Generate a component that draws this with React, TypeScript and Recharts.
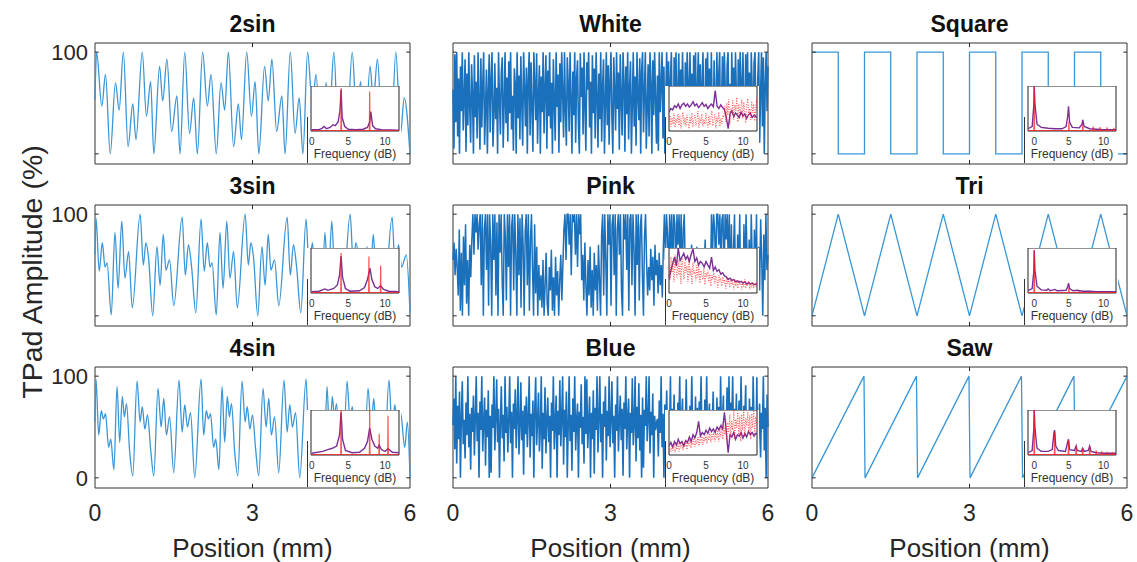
import React from "react";
import { LineChart, Line, XAxis, YAxis, ReferenceArea, ReferenceLine } from "recharts";

type Pt = [number, number];

const POSITION_TICKS = [0, 3, 6];
const AMPLITUDE_TICKS = [0, 100];
const FREQ_TICKS = [0, 5, 10];

// waveform extrema, [position mm, amplitude %]
const WAVE_2SIN: Pt[] = [
  [0, 53], [0.03, 100], [0.13, 47], [0.2, 78], [0.29, 0], [0.39, 70], [0.46, 43], [0.54, 100], [0.63, 7], [0.72, 49],
  [0.78, 14], [0.9, 100], [0.98, 37], [1.06, 71], [1.12, 0], [1.23, 86], [1.29, 52], [1.37, 93], [1.46, 22], [1.56, 57],
  [1.62, 0], [1.71, 100], [1.8, 20], [1.88, 55], [1.95, 0],
  [2.05, 100], [2.14, 47], [2.21, 78], [2.31, 0], [2.4, 70], [2.47, 43], [2.54, 100], [2.64, 7], [2.73, 49], [2.79, 14],
  [2.89, 100], [2.98, 37], [3.05, 71], [3.12, 0], [3.23, 86], [3.3, 52], [3.37, 93], [3.46, 22], [3.56, 57], [3.62, 0],
  [3.72, 100], [3.81, 20], [3.89, 55], [3.96, 0],
  [4.05, 100], [4.14, 47], [4.21, 78], [4.31, 0], [4.4, 70], [4.47, 43], [4.55, 100], [4.64, 7], [4.73, 49], [4.79, 14],
  [4.9, 100], [4.98, 37], [5.06, 71], [5.13, 0], [5.24, 86], [5.3, 52], [5.38, 93], [5.47, 22], [5.57, 57], [5.63, 0],
  [5.73, 100], [5.82, 20], [5.89, 55], [6, 0],
];

const WAVE_3SIN: Pt[] = [
  [0, 60], [0.02, 96], [0.08, 44], [0.14, 72], [0.19, 48], [0.23, 52], [0.31, 1], [0.38, 82], [0.44, 27], [0.51, 93],
  [0.57, 37], [0.64, 63], [0.71, 8], [0.86, 100], [0.92, 50], [0.97, 72], [1.02, 57], [1.1, 0], [1.18, 68], [1.24, 30],
  [1.3, 80], [1.35, 45], [1.42, 55], [1.5, 10], [1.66, 97], [1.72, 40], [1.78, 70], [1.84, 48], [1.92, 3],
  [2.02, 95], [2.08, 44], [2.14, 72], [2.19, 48], [2.23, 52], [2.31, 1], [2.38, 82], [2.44, 27], [2.51, 93], [2.57, 37],
  [2.64, 63], [2.71, 8], [2.86, 100], [2.92, 50], [2.97, 72], [3.02, 57], [3.1, 0], [3.18, 68], [3.24, 30], [3.3, 80],
  [3.35, 45], [3.42, 55], [3.5, 10], [3.66, 97], [3.72, 40], [3.78, 70], [3.84, 48], [3.92, 3],
  [4.02, 95], [4.08, 44], [4.14, 72], [4.19, 48], [4.23, 52], [4.31, 1], [4.38, 82], [4.44, 27], [4.51, 93], [4.57, 37],
  [4.64, 63], [4.71, 8], [4.86, 100], [4.92, 50], [4.97, 72], [5.02, 57], [5.1, 0], [5.18, 68], [5.24, 30], [5.3, 80],
  [5.35, 45], [5.42, 55], [5.5, 10], [5.66, 97], [5.72, 40], [5.78, 70], [5.84, 48], [5.93, 60], [6, 3],
];

const WAVE_4SIN: Pt[] = [
  [0, 55], [0.02, 97], [0.07, 42], [0.12, 66], [0.16, 58], [0.2, 63], [0.26, 30], [0.3, 38], [0.36, 8], [0.42, 90],
  [0.47, 35], [0.52, 80], [0.56, 60], [0.6, 73], [0.66, 26], [0.72, 2], [0.8, 95], [0.86, 55], [0.9, 70], [0.95, 48],
  [1.0, 62], [1.06, 28], [1.12, 2], [1.2, 88], [1.26, 50], [1.31, 78], [1.36, 42], [1.42, 60], [1.5, 5], [1.6, 96],
  [1.66, 45], [1.71, 72], [1.76, 50], [1.82, 64], [1.9, 0],
  [2.02, 97], [2.07, 42], [2.12, 66], [2.16, 58], [2.2, 63], [2.26, 30], [2.3, 38], [2.36, 8], [2.42, 90], [2.47, 35],
  [2.52, 80], [2.56, 60], [2.6, 73], [2.66, 26], [2.72, 2], [2.8, 95], [2.86, 55], [2.9, 70], [2.95, 48], [3.0, 62],
  [3.06, 28], [3.12, 2], [3.2, 88], [3.26, 50], [3.31, 78], [3.36, 42], [3.42, 60], [3.5, 5], [3.6, 96], [3.66, 45],
  [3.71, 72], [3.76, 50], [3.82, 64], [3.9, 0],
  [4.02, 97], [4.07, 42], [4.12, 66], [4.16, 58], [4.2, 63], [4.26, 30], [4.3, 38], [4.36, 8], [4.42, 90], [4.47, 35],
  [4.52, 80], [4.56, 60], [4.6, 73], [4.66, 26], [4.72, 2], [4.8, 95], [4.86, 55], [4.9, 70], [4.95, 48], [5.0, 62],
  [5.06, 28], [5.12, 2], [5.2, 88], [5.26, 50], [5.31, 78], [5.36, 42], [5.42, 60], [5.5, 5], [5.6, 96], [5.66, 45],
  [5.71, 72], [5.76, 50], [5.82, 64], [5.9, 30], [5.95, 55], [6, 0],
];

const WAVE_SQUARE: Pt[] = [
  [0, 100], [0.5, 100], [0.5, 0], [1, 0], [1, 100], [1.5, 100], [1.5, 0], [2, 0], [2, 100], [2.5, 100], [2.5, 0], [3, 0],
  [3, 100], [3.5, 100], [3.5, 0], [4, 0], [4, 100], [4.5, 100], [4.5, 0], [5, 0], [5, 100], [5.5, 100], [5.5, 0], [6, 0],
];

const WAVE_TRI: Pt[] = [
  [0, 0], [0.5, 100], [1, 0], [1.5, 100], [2, 0], [2.5, 100], [3, 0], [3.5, 100], [4, 0], [4.5, 100], [5, 0], [5.5, 100], [6, 0],
];

const WAVE_SAW: Pt[] = [
  [0, 0], [0.99, 100], [1.01, 0], [1.99, 100], [2.01, 0], [2.99, 100], [3.01, 0], [3.99, 100], [4.01, 0], [4.99, 100],
  [5.01, 0], [6, 100],
];

// noise samples, evenly spaced over 0–6 mm
const WHITE = [
  63, 5, 98, 31, 100, 17, 74, 0, 86, 42, 100, 23, 55, 93, 2, 79, 28, 100, 47, 11,
  88, 58, 0, 97, 36, 71, 15, 100, 51, 4, 94, 26, 67, 100, 9, 44, 83, 0, 61, 98,
  21, 72, 100, 7, 39, 89, 34, 65, 0, 100, 53, 19, 80, 95, 6, 48, 100, 30, 75, 12,
  91, 40, 100, 24, 57, 3, 84, 69, 0, 100, 35, 77, 14, 96, 50, 8, 100, 62, 27, 85,
  0, 73, 100, 18, 90, 45, 2, 100, 66, 33, 99, 10, 58, 87, 0, 76, 41, 100, 20, 64,
  97, 5, 82, 37, 100, 25, 70, 0, 93, 52, 13, 100, 46, 78, 1, 89, 31, 100, 60, 16,
  100, 43, 8, 95, 68, 22, 100, 54, 0, 81, 38, 100, 11, 74, 92, 29, 0, 99, 56, 85,
  19, 100, 47, 3, 90, 63, 100, 26, 71, 0, 97, 40, 84, 15, 100, 58, 6, 79, 34, 100,
  12, 66, 93, 0, 50, 100, 28, 87, 9, 72, 100, 36, 0, 95, 61, 23, 100, 44, 80, 4,
  98, 55, 18, 100, 70, 2, 86, 39, 100, 14, 64, 91, 0, 49, 100, 27, 76, 8, 100, 57,
  33, 94, 0, 81, 100, 21, 60, 100, 5, 45, 88, 17, 100, 69, 0, 92, 38, 100, 52, 10,
  77, 3, 100, 41, 68, 100, 15, 86, 0, 59, 100, 32, 91, 7, 73, 100, 24, 0, 95, 48,
  100, 18, 62, 99, 4, 83, 37, 100, 56, 0, 90, 28, 100, 70, 11, 100, 45, 79, 2, 97,
  54, 100, 9, 66, 100, 26, 88, 0, 71, 100, 39, 6, 94, 60, 100, 20, 84, 0, 100, 43,
  13, 92, 58, 0, 100, 35, 76, 100, 8, 50, 96, 22, 100, 64, 1, 87, 100, 30, 69, 0,
  100, 47, 85, 10, 100, 57, 0, 93, 34, 100, 72, 16, 100, 51, 4, 98, 40, 100, 25, 80,
  0, 100, 63, 19, 89, 100, 36, 0, 74, 100, 11, 58, 100, 27, 95, 0, 67, 100, 42, 86,
];

const PINK = [
  55, 72, 40, 66, 48,
  20, 85, 5, 62, 0, 78, 30, 90, 12, 55, 0, 70, 38,
  75, 100, 60, 100, 82, 100, 65, 90,
  100, 30, 100, 0, 85, 100, 45, 100, 10, 100, 70, 0, 100, 55, 100, 20, 92, 0, 100, 62,
  100, 35, 0, 100, 78, 15, 100, 48, 100, 0, 88, 100, 25, 100, 60, 0, 100, 40, 96, 8,
  100, 70, 0, 84, 100, 30, 100, 5, 75, 100, 45, 0, 90, 22, 68, 0, 50, 15,
  40, 8, 55, 0, 30, 62, 12, 0, 48, 25, 65, 5, 38, 0, 58, 20, 44, 0, 35, 60, 15, 50,
  85, 100, 55, 100, 100, 70, 100, 40, 100, 92, 100, 60, 100, 48, 100, 80, 100, 35,
  60, 15, 72, 30, 0, 55, 20, 68, 8, 45, 0, 62, 25, 50, 5, 70, 35, 0,
  80, 100, 20, 100, 55, 0, 100, 70, 100, 10, 90, 100, 40, 100, 0, 85, 100, 60, 100, 25,
  0, 100, 75, 100, 45, 100, 5, 95, 100, 30, 100, 65, 0, 100, 50, 100, 15, 88, 100, 40,
  0, 78, 100, 52, 20,
  48, 25, 66, 35, 58, 10, 70, 40, 55, 22, 62, 30, 50, 18, 68,
  100, 55, 100, 80, 30, 100, 65, 100, 45, 100, 90, 35, 100, 70, 100, 50, 100, 25, 85, 100,
  40, 5, 60, 22, 0, 48, 70, 15, 0, 55, 32, 68, 0, 40, 10, 62, 28, 0, 50, 75, 18, 0, 45, 65, 30,
  100, 60, 100, 85, 40, 100, 100, 70, 100, 50, 95, 100, 30, 100, 75, 100, 55, 100, 20, 90,
  0, 65, 100, 30, 0, 80, 45, 100, 10, 55, 0, 90, 35, 100, 60, 0, 75, 20, 100, 50,
  5, 85, 40, 100, 0, 68, 25, 95, 55, 0, 80, 35, 100, 45, 60,
];

const BLUE = [
  52, 78, 28, 100, 14, 71, 38, 85, 0, 60, 95, 33, 57, 19, 74, 42, 100, 30, 63, 8,
  69, 45, 81, 22, 58, 100, 36, 64, 0, 75, 47, 100, 26, 55, 79, 12, 67, 40, 86, 0,
  61, 5, 72, 49, 100, 27, 59, 97, 35, 68, 0, 54, 90, 39, 62, 16, 100, 44, 70, 25,
  56, 100, 34, 65, 0, 73, 48, 87, 29, 60, 100, 23, 51, 94, 37, 66, 3, 71, 43, 80,
  30, 58, 100, 20, 63, 41, 76, 0, 68, 99, 32, 55, 84, 26, 47, 100, 9, 64, 38, 89,
  24, 57, 79, 35, 61, 0, 74, 46, 100, 28, 53, 81, 0, 66, 42, 96, 31, 59, 100, 13,
  67, 40, 85, 0, 52, 100, 36, 62, 7, 78, 45, 100, 27, 56, 73, 0, 65, 49, 92, 33,
  60, 14, 100, 43, 97, 29, 54, 80, 0, 64, 38, 86, 4, 69, 47, 100, 25, 58, 100, 35,
  63, 0, 75, 50, 90, 17, 66, 41, 100, 30, 57, 95, 34, 61, 0, 72, 46, 100, 26, 55,
  81, 37, 68, 2, 74, 48, 100, 28, 59, 78, 0, 64, 44, 98, 32, 53, 100, 16, 70, 39,
  93, 27, 62, 0, 79, 10, 67, 51, 100, 36, 58, 100, 24, 65, 42, 83, 0, 61, 47, 54,
  58, 21, 76, 44, 100, 30, 63, 0, 72, 52, 86, 25, 61, 40, 100, 19, 68, 48, 82, 0,
  65, 6, 74, 46, 100, 29, 57, 78, 0, 66, 43, 97, 31, 60, 15, 71, 50, 100, 37, 62,
  27, 80, 0, 69, 12, 75, 53, 100, 34, 64, 20, 77, 41, 100, 28, 59, 73, 0, 67, 49,
  85, 32, 61, 0, 79, 44, 70, 26, 100, 38, 56, 81, 0, 65, 47, 89, 14, 100, 36, 74,
  51, 100, 29, 68, 42, 83, 0, 60, 76, 33, 100, 46, 1, 71, 55, 91, 24, 66, 0, 78,
  43, 70, 16, 100, 52, 62, 31, 99, 0, 57, 73, 20, 64, 48, 100, 27, 69, 0, 82, 50,
];

// inset spectra, [frequency, relative magnitude]
const SPEC_2SIN_MEAS: Pt[] = [
  [0, 0.03], [1, 0.03], [1.4, 0.06], [1.7, 0.1], [2.0, 0.05], [2.5, 0.08], [2.9, 0.14], [3.2, 0.12], [3.6, 0.2], [3.85, 0.45],
  [4.0, 0.92], [4.15, 0.3], [4.5, 0.1], [5, 0.04], [6, 0.03], [7, 0.04], [7.6, 0.08], [7.9, 0.2], [8.05, 0.43], [8.3, 0.12],
  [8.7, 0.05], [9.5, 0.03], [12, 0.02],
];
const SPEC_2SIN_IDEAL: Pt[] = [[0, 0.01], [3.98, 0.01], [4.02, 0.95], [4.06, 0.01], [7.86, 0.01], [7.9, 0.88], [7.94, 0.01], [12, 0.01]];

const SPEC_3SIN_MEAS: Pt[] = [
  [0, 0.03], [1, 0.04], [1.8, 0.09], [2.2, 0.06], [3.0, 0.1], [3.5, 0.18], [3.8, 0.4], [4.0, 0.82], [4.2, 0.35], [4.6, 0.1],
  [5.2, 0.04], [6.5, 0.05], [7.2, 0.12], [7.6, 0.3], [7.95, 0.55], [8.2, 0.3], [8.6, 0.14], [9.0, 0.1], [9.4, 0.16], [9.8, 0.08],
  [10.5, 0.04], [12, 0.03],
];
const SPEC_3SIN_IDEAL: Pt[] = [
  [0, 0.01], [3.96, 0.01], [4.0, 0.89], [4.04, 0.01], [7.76, 0.01], [7.8, 0.81], [7.84, 0.01], [9.36, 0.01], [9.4, 0.61],
  [9.44, 0.01], [12, 0.01],
];

const SPEC_4SIN_MEAS: Pt[] = [
  [0, 0.04], [1.5, 0.08], [2.2, 0.12], [2.8, 0.15], [3.4, 0.2], [3.8, 0.45], [4.0, 0.95], [4.2, 0.35], [4.6, 0.1], [5.5, 0.05],
  [6.5, 0.06], [7.2, 0.15], [7.6, 0.3], [7.9, 0.6], [8.2, 0.35], [8.6, 0.2], [9.0, 0.15], [9.2, 0.22], [9.5, 0.12], [10.0, 0.08],
  [10.4, 0.14], [11, 0.06], [12, 0.05],
];
const SPEC_4SIN_IDEAL: Pt[] = [
  [0, 0.01], [3.96, 0.01], [4.0, 1.0], [4.04, 0.01], [7.86, 0.01], [7.9, 1.0], [7.94, 0.01], [9.16, 0.01], [9.2, 0.47],
  [9.24, 0.01], [10.36, 0.01], [10.4, 0.87], [10.44, 0.01], [12, 0.01],
];

const SPEC_SQUARE_MEAS: Pt[] = [
  [-0.9, 0.05], [-0.3, 0.1], [-0.05, 0.6], [0, 1.0], [0.1, 0.6], [0.4, 0.15], [1, 0.08], [2, 0.06], [3, 0.05], [4, 0.05],
  [4.6, 0.1], [4.85, 0.35], [4.95, 0.55], [5.1, 0.2], [5.5, 0.08], [6.5, 0.07], [6.9, 0.15], [7.0, 0.25], [7.2, 0.1], [8, 0.05],
  [9, 0.04], [10, 0.03], [11.8, 0.03],
];
const SPEC_SQUARE_IDEAL: Pt[] = [
  [-0.9, 0.01], [-0.04, 0.01], [0, 1.0], [0.04, 0.01], [4.96, 0.01], [5, 0.2], [5.04, 0.01], [6.96, 0.01], [7, 0.15],
  [7.04, 0.01], [8.46, 0.01], [8.5, 0.1], [8.54, 0.01], [9.46, 0.01], [9.5, 0.09], [9.54, 0.01], [10.46, 0.01], [10.5, 0.08],
  [10.54, 0.01], [11.46, 0.01], [11.5, 0.07], [11.54, 0.01], [11.8, 0.01],
];

const SPEC_TRI_MEAS: Pt[] = [
  [-0.9, 0.05], [-0.3, 0.1], [-0.05, 0.5], [0, 0.95], [0.1, 0.5], [0.4, 0.15], [1, 0.07], [1.8, 0.06], [2.0, 0.09], [2.3, 0.05],
  [3.0, 0.08], [3.3, 0.05], [4.6, 0.06], [4.85, 0.15], [4.95, 0.22], [5.1, 0.1], [5.6, 0.05], [6.2, 0.06], [7, 0.04], [8, 0.04],
  [9, 0.03], [11.8, 0.03],
];
const SPEC_TRI_IDEAL: Pt[] = [
  [-0.9, 0.01], [-0.04, 0.01], [0, 0.95], [0.04, 0.01], [4.96, 0.01], [5, 0.12], [5.04, 0.01], [6.46, 0.01], [6.5, 0.05],
  [6.54, 0.01], [11.8, 0.01],
];

const SPEC_SAW_MEAS: Pt[] = [
  [-0.9, 0.05], [-0.3, 0.1], [-0.05, 0.6], [0, 1.0], [0.1, 0.6], [0.4, 0.15], [1, 0.08], [2, 0.08], [2.6, 0.12], [2.85, 0.5],
  [2.95, 0.55], [3.1, 0.2], [3.5, 0.1], [4.5, 0.08], [4.85, 0.3], [4.95, 0.35], [5.1, 0.12], [5.8, 0.1], [6.05, 0.2], [6.2, 0.1],
  [6.8, 0.08], [7.0, 0.15], [7.2, 0.08], [7.8, 0.1], [8.0, 0.2], [8.2, 0.08], [9, 0.05], [10, 0.04], [11.8, 0.04],
];
const SPEC_SAW_IDEAL: Pt[] = [
  [-0.9, 0.01], [-0.04, 0.01], [0, 1.0], [0.04, 0.01], [2.9, 0.01], [2.95, 0.5], [3.0, 0.01], [4.9, 0.01], [4.95, 0.33],
  [5.0, 0.01], [6.0, 0.01], [6.05, 0.2], [6.1, 0.01], [6.95, 0.01], [7, 0.15], [7.05, 0.01], [7.95, 0.01], [8, 0.18],
  [8.05, 0.01], [8.9, 0.01], [8.95, 0.1], [9, 0.01], [9.7, 0.01], [9.75, 0.08], [9.8, 0.01], [10.5, 0.01], [10.55, 0.07],
  [10.6, 0.01], [11.3, 0.01], [11.35, 0.06], [11.4, 0.01], [11.8, 0.01],
];

// noise spectra, evenly spaced over 0–12
const SPEC_WHITE_MEAS = [
  0.42, 0.5, 0.47, 0.56, 0.52, 0.6, 0.5, 0.58, 0.62, 0.55, 0.6, 0.53, 0.58, 0.65, 0.56, 0.6, 0.52, 0.57, 0.63, 0.55,
  0.59, 0.5, 0.56, 0.6, 0.54, 0.9, 0.55, 0.5, 0.58, 0.52, 0.48, 0.3, 0.05, 0.38, 0.45, 0.32, 0.4, 0.35, 0.3, 0.42,
  0.33, 0.38, 0.28, 0.36, 0.4, 0.3, 0.35, 0.32, 0.3,
];
const SPEC_WHITE_IDEAL = [
  0.2, 0.35, 0.1, 0.3, 0.15, 0.4, 0.08, 0.28, 0.18, 0.38, 0.12, 0.33, 0.06, 0.25, 0.42, 0.14, 0.3, 0.1, 0.36, 0.2,
  0.05, 0.32, 0.16, 0.4, 0.09, 0.27, 0.35, 0.12, 0.22, 0.44, 0.07, 0.3, 0.18, 0.38, 0.1, 0.26, 0.15, 0.4, 0.2, 0.08,
  0.34, 0.13, 0.29, 0.45, 0.11, 0.24, 0.37, 0.06, 0.31, 0.19, 0.42, 0.1, 0.28, 0.16, 0.35,
  0.3, 0.55, 0.2, 0.62, 0.35, 0.7, 0.15, 0.5, 0.4, 0.68, 0.25, 0.58, 0.45, 0.75, 0.2, 0.6, 0.33, 0.52, 0.7, 0.28,
  0.64, 0.42, 0.18, 0.57, 0.72, 0.36, 0.5, 0.25, 0.66, 0.4, 0.6, 0.22, 0.55, 0.7, 0.35,
];
const SPEC_PINK_MEAS = [
  0.3, 0.5, 0.65, 0.8, 0.6, 1.0, 0.72, 0.8, 0.88, 0.75, 0.82, 0.7, 0.86, 0.98, 0.7, 0.78, 0.62, 0.7, 0.66, 0.58,
  0.7, 0.62, 0.55, 0.8, 0.5, 0.58, 0.48, 0.52, 0.42, 0.45, 0.38, 0.36, 0.3, 0.33, 0.28, 0.3, 0.25, 0.27, 0.24, 0.26,
  0.22, 0.25, 0.2, 0.23, 0.2, 0.22, 0.19, 0.2, 0.18,
];
const SPEC_PINK_IDEAL = [
  0.6, 0.3, 0.8, 0.45, 0.7, 0.25, 0.85, 0.5, 0.35, 0.75, 0.4, 0.65, 0.2, 0.78, 0.55, 0.3, 0.7, 0.45, 0.6, 0.25,
  0.72, 0.38, 0.55, 0.2, 0.68, 0.42, 0.5, 0.28, 0.62, 0.35, 0.58, 0.22, 0.5, 0.4, 0.3, 0.55, 0.18, 0.45, 0.35, 0.5,
  0.25, 0.42, 0.15, 0.4, 0.3, 0.45, 0.2, 0.38, 0.28, 0.12, 0.4, 0.25, 0.33, 0.15, 0.36, 0.22, 0.3, 0.1, 0.34, 0.2,
  0.28, 0.12, 0.32, 0.18, 0.25, 0.08, 0.3, 0.15, 0.26, 0.1, 0.28, 0.18, 0.22, 0.08, 0.25, 0.14, 0.3, 0.1, 0.2, 0.16,
  0.27, 0.08, 0.22, 0.12, 0.25, 0.1, 0.2, 0.15, 0.24, 0.12,
];
const SPEC_BLUE_MEAS = [
  0.2, 0.28, 0.18, 0.3, 0.22, 0.35, 0.25, 0.3, 0.2, 0.32, 0.28, 0.4, 0.3, 0.45, 0.38, 0.5, 0.75, 0.42, 0.5, 0.45,
  0.55, 0.48, 0.6, 0.52, 0.58, 0.5, 0.62, 0.56, 0.65, 0.58, 0.95, 0.5, 0.05, 0.45, 0.4, 0.5, 0.35, 0.45, 0.42, 0.5,
  0.38, 0.48, 0.4, 0.52, 0.45, 0.5, 0.42, 0.48, 0.45,
];
const SPEC_BLUE_IDEAL = [
  0.05, 0.15, 0.08, 0.2, 0.1, 0.25, 0.06, 0.18, 0.12, 0.28, 0.08, 0.22, 0.15, 0.3, 0.1, 0.25, 0.18, 0.32, 0.12, 0.28,
  0.2, 0.35, 0.15, 0.3, 0.22, 0.38, 0.18, 0.33, 0.25, 0.4, 0.2, 0.36, 0.28, 0.42, 0.22, 0.4, 0.3, 0.45, 0.25, 0.42,
  0.32, 0.5, 0.28, 0.46, 0.35, 0.52, 0.3, 0.48, 0.38, 0.55, 0.3, 0.6, 0.4, 0.7, 0.35, 0.65, 0.45, 0.8, 0.3, 0.72,
  0.5, 0.9, 0.4, 0.75, 0.55, 1.0, 0.35, 0.8, 0.6, 0.95, 0.45, 0.85, 0.3, 0.9, 0.55, 1.0, 0.4, 0.82, 0.65, 0.95,
  0.5, 0.88, 0.35, 0.92, 0.6, 1.0, 0.45, 0.85, 0.7, 0.9,
];

const COL_LEFT = [95, 453, 812];
const ROW_TOP = [43, 205, 367];
const PW = 315;
const PH = 121;
const Y_DOMAIN: [number, number] = [-10, 109];
const TEXT = "#262626";
const SINE_BLUE = "#3a96d6";
const NOISE_BLUE = "#1a70bb";
const PURPLE = "#7a2f96";
const RED = "#ff1a1a";

const fromPairs = (pts: Pt[]) => pts.map(([x, y]) => ({ x, y }));
const fromSamples = (vals: number[], span: number) => vals.map((y, i) => ({ x: (i * span) / (vals.length - 1), y }));

type PanelSpec = {
  title: string;
  data: { x: number; y: number }[];
  color: string;
  curve: "monotone" | "linear";
  width: number;
  meas: { x: number; y: number }[];
  ideal: { x: number; y: number }[];
  dotted: boolean;
  freqDomain: [number, number];
};

const PANELS: PanelSpec[][] = [
  [
    { title: "2sin", data: fromPairs(WAVE_2SIN), color: SINE_BLUE, curve: "monotone", width: 1.3, meas: fromPairs(SPEC_2SIN_MEAS), ideal: fromPairs(SPEC_2SIN_IDEAL), dotted: false, freqDomain: [-0.1, 11.9] },
    { title: "White", data: fromSamples(WHITE, 6), color: NOISE_BLUE, curve: "linear", width: 1.6, meas: fromSamples(SPEC_WHITE_MEAS, 12), ideal: fromSamples(SPEC_WHITE_IDEAL, 12), dotted: true, freqDomain: [0, 11.9] },
    { title: "Square", data: fromPairs(WAVE_SQUARE), color: SINE_BLUE, curve: "linear", width: 1.3, meas: fromPairs(SPEC_SQUARE_MEAS), ideal: fromPairs(SPEC_SQUARE_IDEAL), dotted: false, freqDomain: [-0.9, 11.8] },
  ],
  [
    { title: "3sin", data: fromPairs(WAVE_3SIN), color: SINE_BLUE, curve: "monotone", width: 1.3, meas: fromPairs(SPEC_3SIN_MEAS), ideal: fromPairs(SPEC_3SIN_IDEAL), dotted: false, freqDomain: [-0.1, 11.9] },
    { title: "Pink", data: fromSamples(PINK, 6), color: NOISE_BLUE, curve: "linear", width: 1.5, meas: fromSamples(SPEC_PINK_MEAS, 12), ideal: fromSamples(SPEC_PINK_IDEAL, 12), dotted: true, freqDomain: [0, 11.9] },
    { title: "Tri", data: fromPairs(WAVE_TRI), color: SINE_BLUE, curve: "linear", width: 1.3, meas: fromPairs(SPEC_TRI_MEAS), ideal: fromPairs(SPEC_TRI_IDEAL), dotted: false, freqDomain: [-0.9, 11.8] },
  ],
  [
    { title: "4sin", data: fromPairs(WAVE_4SIN), color: SINE_BLUE, curve: "monotone", width: 1.3, meas: fromPairs(SPEC_4SIN_MEAS), ideal: fromPairs(SPEC_4SIN_IDEAL), dotted: false, freqDomain: [-0.1, 11.9] },
    { title: "Blue", data: fromSamples(BLUE, 6), color: NOISE_BLUE, curve: "linear", width: 1.6, meas: fromSamples(SPEC_BLUE_MEAS, 12), ideal: fromSamples(SPEC_BLUE_IDEAL, 12), dotted: true, freqDomain: [0, 11.9] },
    { title: "Saw", data: fromPairs(WAVE_SAW), color: SINE_BLUE, curve: "linear", width: 1.3, meas: fromPairs(SPEC_SAW_MEAS), ideal: fromPairs(SPEC_SAW_IDEAL), dotted: false, freqDomain: [-0.9, 11.8] },
  ],
];

function Panel({ spec, row, col }: { spec: PanelSpec; row: number; col: number }) {
  const bottomRow = row === 2;
  const padL = 70;
  const padT = 40;
  const padR = 12;
  const padB = bottomRow ? 80 : 2;
  const tx = 0.07;
  const ty = 4;
  return (
    <div style={{ position: "absolute", left: COL_LEFT[col] - padL, top: ROW_TOP[row] - padT }}>
      <LineChart
        width={PW + padL + padR}
        height={PH + padT + padB}
        data={spec.data}
        margin={{ top: padT, right: padR, bottom: bottomRow ? 0 : padB, left: 0 }}
      >
        <XAxis
          type="number"
          dataKey="x"
          domain={[0, 6]}
          ticks={POSITION_TICKS}
          hide={!bottomRow}
          height={80}
          tickSize={0}
          tickMargin={17}
          axisLine={false}
          tick={{ fontSize: 23, fill: TEXT }}
          label={{ value: "Position (mm)", position: "insideBottom", offset: 11, fontSize: 26, fill: TEXT }}
        />
        <YAxis
          type="number"
          domain={Y_DOMAIN}
          allowDataOverflow
          ticks={AMPLITUDE_TICKS}
          width={padL}
          tickSize={0}
          tickMargin={7}
          axisLine={false}
          tick={col === 0 ? { fontSize: 22, fill: TEXT } : false}
        />
        <Line
          type={spec.curve}
          dataKey="y"
          stroke={spec.color}
          strokeWidth={spec.width}
          dot={false}
          isAnimationActive={false}
        />
        {AMPLITUDE_TICKS.map((v) => (
          <ReferenceLine key={"l" + v} segment={[{ x: 0, y: v }, { x: tx, y: v }]} stroke={TEXT} />
        ))}
        {AMPLITUDE_TICKS.map((v) => (
          <ReferenceLine key={"r" + v} segment={[{ x: 6 - tx, y: v }, { x: 6, y: v }]} stroke={TEXT} />
        ))}
        <ReferenceLine segment={[{ x: 3, y: Y_DOMAIN[1] }, { x: 3, y: Y_DOMAIN[1] - ty }]} stroke={TEXT} />
        <ReferenceLine segment={[{ x: 3, y: Y_DOMAIN[0] }, { x: 3, y: Y_DOMAIN[0] + ty }]} stroke={TEXT} />
        <ReferenceArea
          x1={0}
          x2={6}
          y1={Y_DOMAIN[0]}
          y2={Y_DOMAIN[1]}
          fill="none"
          stroke="#333"
          strokeWidth={1}
          label={{ value: spec.title, position: "top", offset: 11, fontSize: 23, fontWeight: 700, fill: "#111" }}
        />
      </LineChart>
    </div>
  );
}

function Inset({ spec, row, col }: { spec: PanelSpec; row: number; col: number }) {
  const w = 94;
  const h = 77;
  return (
    <div style={{ position: "absolute", left: COL_LEFT[col] + 212, top: ROW_TOP[row] + 43, width: w, height: h, background: "#fff" }}>
      <div style={{ position: "absolute", left: 0, top: 31, width: 1, height: h - 31, background: "#333" }} />
      <LineChart width={w} height={h} margin={{ top: 0, right: 2, bottom: 0, left: 4 }}>
        <XAxis
          type="number"
          dataKey="x"
          domain={spec.freqDomain}
          allowDataOverflow
          ticks={FREQ_TICKS}
          height={32}
          tickSize={0}
          tickMargin={7}
          axisLine={false}
          tick={{ fontSize: 10, fill: "#333" }}
          label={{ value: "Frequency (dB)", position: "insideBottom", offset: 5, fontSize: 12, fill: "#333" }}
        />
        <YAxis hide type="number" domain={[0, 1]} allowDataOverflow />
        <Line
          data={spec.meas}
          type="linear"
          dataKey="y"
          stroke={PURPLE}
          strokeWidth={1.4}
          dot={false}
          isAnimationActive={false}
        />
        <Line
          data={spec.ideal}
          type="linear"
          dataKey="y"
          stroke={RED}
          strokeOpacity={0.75}
          strokeWidth={spec.dotted ? 1 : 1.2}
          strokeDasharray={spec.dotted ? "1 1.5" : undefined}
          dot={false}
          isAnimationActive={false}
        />
        <ReferenceArea x1={spec.freqDomain[0]} x2={spec.freqDomain[1]} y1={0} y2={1} fill="none" stroke="#222" />
      </LineChart>
    </div>
  );
}

export default function App() {
  return (
    <div
      style={{
        position: "absolute",
        left: 0,
        top: 0,
        width: 1137,
        height: 562,
        background: "#fff",
        fontFamily: "'Liberation Sans', Arial, sans-serif",
        overflow: "hidden",
      }}
    >
      {PANELS.map((r, ri) => r.map((p, ci) => <Panel key={ri + "-" + ci} spec={p} row={ri} col={ci} />))}
      {PANELS.map((r, ri) => r.map((p, ci) => <Inset key={"i" + ri + "-" + ci} spec={p} row={ri} col={ci} />))}
      <div
        style={{
          position: "absolute",
          left: 32,
          top: 272,
          transform: "translate(-50%, -50%) rotate(-90deg)",
          whiteSpace: "nowrap",
          fontSize: 28.5,
          color: TEXT,
        }}
      >
        TPad Amplitude (%)
      </div>
    </div>
  );
}
